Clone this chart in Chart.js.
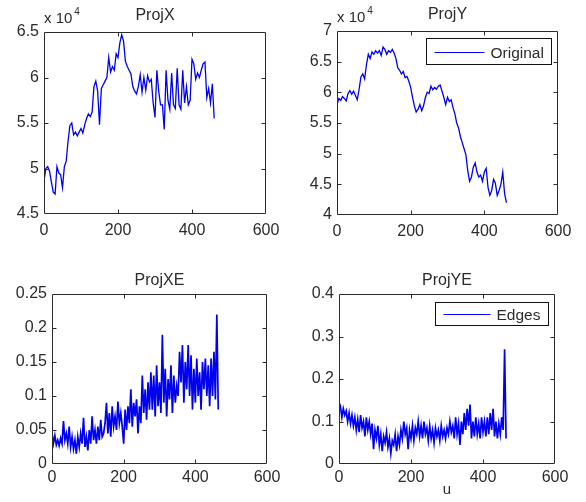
<!DOCTYPE html>
<html>
<head>
<meta charset="utf-8">
<script src="https://cdn.jsdelivr.net/npm/chart.js@4.4.1/dist/chart.umd.min.js"></script>
<style>
  html, body { margin: 0; padding: 0; background: #fff; }
  #wrap { position: relative; width: 586px; height: 502px; overflow: hidden; }
  canvas { position: absolute; }
</style>
</head>
<body>
<div id="wrap">
  <canvas id="c-projx" width="293" height="251" style="left:0;top:0"></canvas>
  <canvas id="c-projy" width="293" height="251" style="left:293px;top:0"></canvas>
  <canvas id="c-projxe" width="293" height="251" style="left:0;top:251px"></canvas>
  <canvas id="c-projye" width="293" height="251" style="left:293px;top:251px"></canvas>
</div>
<script>
// sample spacing along u
const topStep = 5;
const edgeStep = 4;
const xTicks = [0, 200, 400, 600];

// ProjX, ProjY in units of 10^4
const projX = [
  4.86, 5.00, 5.02, 4.97, 4.85, 4.74, 4.72, 5.02, 4.95, 4.93,
  4.79, 5.02, 5.08, 5.30, 5.47, 5.50, 5.37, 5.40, 5.36, 5.40,
  5.44, 5.39, 5.48, 5.55, 5.60, 5.57, 5.62, 5.90, 5.96, 5.85,
  5.48, 5.88, 5.92, 5.96, 6.00, 6.22, 6.06, 6.12, 6.08, 6.26,
  6.22, 6.38, 6.47, 6.40, 6.18, 6.12, 6.08, 6.04, 5.90, 5.85,
  5.82, 5.90, 6.03, 5.84, 6.00, 5.86, 6.02, 5.95, 5.98, 5.72,
  5.56, 6.08, 5.85, 5.70, 5.70, 5.43, 6.08, 5.75, 5.65, 6.05,
  5.70, 5.66, 6.10, 5.70, 5.65, 6.08, 5.72, 5.90, 5.70, 5.75,
  6.20, 6.15, 5.98, 6.05, 6.00, 6.08, 6.15, 6.17, 5.78, 5.88,
  5.72, 5.93, 5.55
];
const projY = [
  5.80, 5.90, 5.87, 5.93, 5.90, 5.86, 5.98, 6.03, 5.97, 6.02,
  5.95, 5.88, 6.05, 6.25, 6.30, 6.22, 6.45, 6.62, 6.55, 6.66,
  6.62, 6.68, 6.64, 6.68, 6.60, 6.74, 6.70, 6.62, 6.68, 6.65,
  6.70, 6.64, 6.55, 6.40, 6.36, 6.30, 6.34, 6.24, 6.26, 6.18,
  6.08, 5.92, 5.78, 5.68, 5.72, 5.80, 5.70, 5.78, 5.92, 6.00,
  5.98, 6.10, 6.04, 6.08, 6.05, 6.10, 6.12, 6.02, 5.92, 5.80,
  5.92, 5.85, 5.88, 5.75, 5.65, 5.50, 5.42, 5.28, 5.18, 5.08,
  4.98, 4.72, 4.55, 4.62, 4.78, 4.85, 4.70, 4.62, 4.65, 4.55,
  4.70, 4.76, 4.45, 4.32, 4.40, 4.58, 4.52, 4.32, 4.40, 4.50,
  4.70, 4.35, 4.20
];
const projXE = [
  0.045, 0.030, 0.042, 0.028, 0.035, 0.027, 0.038, 0.030, 0.063, 0.035,
  0.045, 0.030, 0.055, 0.025, 0.040, 0.022, 0.035, 0.015, 0.040, 0.025,
  0.045, 0.030, 0.068, 0.025, 0.040, 0.020, 0.050, 0.030, 0.070, 0.035,
  0.050, 0.030, 0.055, 0.035, 0.065, 0.040, 0.045, 0.060, 0.090, 0.045,
  0.075, 0.040, 0.085, 0.055, 0.070, 0.050, 0.092, 0.060, 0.075, 0.055,
  0.030, 0.080, 0.050, 0.085, 0.060, 0.110, 0.055, 0.090, 0.070, 0.095,
  0.045, 0.085, 0.060, 0.130, 0.075, 0.110, 0.065, 0.120, 0.080, 0.135,
  0.080, 0.130, 0.070, 0.145, 0.085, 0.120, 0.075, 0.190, 0.090, 0.140,
  0.070, 0.125, 0.095, 0.145, 0.075, 0.130, 0.090, 0.115, 0.100, 0.165,
  0.120, 0.175, 0.090, 0.150, 0.110, 0.175, 0.100, 0.160, 0.080, 0.140,
  0.090, 0.155, 0.100, 0.135, 0.080, 0.150, 0.110, 0.155, 0.100, 0.145,
  0.085, 0.155, 0.100, 0.165, 0.095, 0.220, 0.080
];
const projYE = [
  0.125, 0.135, 0.110, 0.130, 0.115, 0.125, 0.100, 0.120, 0.095, 0.115,
  0.090, 0.110, 0.080, 0.105, 0.075, 0.115, 0.085, 0.100, 0.065, 0.110,
  0.080, 0.100, 0.070, 0.095, 0.035, 0.080, 0.060, 0.090, 0.045, 0.070,
  0.030, 0.065, 0.050, 0.075, 0.040, 0.060, 0.025, 0.055, 0.045, 0.070,
  0.030, 0.065, 0.045, 0.080, 0.060, 0.100, 0.070, 0.085, 0.035, 0.080,
  0.060, 0.090, 0.055, 0.085, 0.070, 0.100, 0.065, 0.090, 0.060, 0.100,
  0.070, 0.085, 0.055, 0.090, 0.060, 0.080, 0.050, 0.085, 0.065, 0.080,
  0.055, 0.090, 0.065, 0.080, 0.060, 0.085, 0.070, 0.100, 0.075, 0.090,
  0.060, 0.110, 0.070, 0.095, 0.045, 0.100, 0.070, 0.120, 0.080, 0.130,
  0.090, 0.140, 0.060, 0.100, 0.065, 0.110, 0.070, 0.095, 0.060, 0.110,
  0.075, 0.100, 0.065, 0.110, 0.070, 0.120, 0.080, 0.130, 0.065, 0.100,
  0.060, 0.095, 0.070, 0.110, 0.080, 0.270, 0.060
];

const FONT = "'Liberation Sans', Arial, sans-serif";
const INK = '#2b2b2b';

function toPoints(arr, step) {
    return arr.map((v, i) => ({ x: i * step, y: v }));
}

function fmt(v) {
    return String(parseFloat(v.toFixed(3)));
}

// matlab-like frame: box, inward ticks, title, exponent label, legend inside
const matlabAxes = {
    id: 'matlabAxes',
    afterDraw(chart, args, opts) {
        const { ctx, chartArea: a, scales } = chart;
        const L = a.left + 0.5, R = a.right - 0.5, T = a.top + 0.5, B = a.bottom - 0.5;
        ctx.save();
        ctx.strokeStyle = INK;
        ctx.lineWidth = 1;
        ctx.beginPath();
        ctx.rect(L, T, R - L, B - T);
        scales.x.ticks.forEach(t => {
            const px = Math.round(scales.x.getPixelForValue(t.value)) + 0.5;
            if (px <= L + 1 || px >= R - 1) return;
            ctx.moveTo(px, B); ctx.lineTo(px, B - 4);
            ctx.moveTo(px, T); ctx.lineTo(px, T + 4);
        });
        scales.y.ticks.forEach(t => {
            const py = Math.round(scales.y.getPixelForValue(t.value)) + 0.5;
            if (py <= T + 1 || py >= B - 1) return;
            ctx.moveTo(L, py); ctx.lineTo(L + 4, py);
            ctx.moveTo(R, py); ctx.lineTo(R - 4, py);
        });
        ctx.stroke();

        ctx.fillStyle = INK;
        ctx.font = '16px ' + FONT;
        ctx.textAlign = 'center';
        ctx.textBaseline = 'alphabetic';
        ctx.fillText(opts.title, (a.left + a.right) / 2, a.top - opts.titleGap);

        if (opts.exponent) {
            ctx.textAlign = 'left';
            ctx.font = '15px ' + FONT;
            ctx.fillText('x 10', a.left, a.top - 9);
            const w = ctx.measureText('x 10').width;
            ctx.font = '10px ' + FONT;
            ctx.fillText(opts.exponent, a.left + w + 2, a.top - 17);
        }

        if (opts.legend) {
            const label = chart.data.datasets[0].label;
            ctx.font = '15.5px ' + FONT;
            const tw = ctx.measureText(label).width;
            const lineLen = opts.legendLine;
            const bw = Math.round(8 + lineLen + 6 + tw + 8);
            const bh = opts.legendH;
            const bx = a.right - 7 - bw + 0.5;
            const by = a.top + opts.legendTop + 0.5;
            ctx.fillStyle = '#fff';
            ctx.fillRect(bx, by, bw, bh);
            ctx.strokeStyle = '#111';
            ctx.strokeRect(bx, by, bw, bh);
            const my = Math.round(by + bh / 2) + 0.5;
            ctx.strokeStyle = '#0000ff';
            ctx.beginPath();
            ctx.moveTo(bx + 8, my);
            ctx.lineTo(bx + 8 + lineLen, my);
            ctx.stroke();
            ctx.fillStyle = INK;
            ctx.textAlign = 'left';
            ctx.textBaseline = 'middle';
            ctx.fillText(label, bx + 8 + lineLen + 6, my + 1);
        }
        ctx.restore();
    }
};

function makeChart(id, cfg) {
    const ctx = document.getElementById(id).getContext('2d');
    return new Chart(ctx, {
        type: 'line',
        data: {
            datasets: [{
                label: cfg.label || '',
                data: cfg.points,
                borderColor: '#0000f0',
                borderWidth: cfg.lw,
                borderJoinStyle: 'miter',
                pointRadius: 0,
                tension: 0,
                fill: false
            }]
        },
        options: {
            responsive: false,
            animation: false,
            devicePixelRatio: 1,
            layout: { padding: { top: cfg.top, right: cfg.right, left: 0, bottom: 0 } },
            plugins: {
                legend: { display: false },
                tooltip: { enabled: false },
                matlabAxes: {
                    title: cfg.title,
                    titleGap: cfg.titleGap,
                    exponent: cfg.exponent,
                    legend: !!cfg.label,
                    legendLine: cfg.legendLine || 50,
                    legendH: cfg.legendH || 25,
                    legendTop: cfg.legendTop || 7
                }
            },
            scales: {
                x: {
                    type: 'linear',
                    min: 0,
                    max: 600,
                    afterBuildTicks: s => { s.ticks = xTicks.map(v => ({ value: v })); },
                    afterFit: s => { s.height = cfg.xH; },
                    grid: { display: false, drawTicks: false },
                    border: { display: false },
                    ticks: {
                        color: INK,
                        font: { family: FONT, size: 16 },
                        padding: cfg.xPad,
                        maxRotation: 0,
                        callback: v => fmt(v)
                    },
                    title: {
                        display: !!cfg.xTitle,
                        text: cfg.xTitle || '',
                        color: INK,
                        font: { family: FONT, size: 15 },
                        padding: { top: 0, bottom: 3 }
                    }
                },
                y: {
                    type: 'linear',
                    min: cfg.yMin,
                    max: cfg.yMax,
                    afterBuildTicks: s => { s.ticks = cfg.yTicks.map(v => ({ value: v })); },
                    afterFit: s => { s.width = cfg.yW; },
                    grid: { display: false, drawTicks: false },
                    border: { display: false },
                    ticks: {
                        color: INK,
                        font: { family: FONT, size: 16 },
                        padding: 5,
                        callback: v => fmt(v)
                    }
                }
            }
        },
        plugins: [matlabAxes]
    });
}

makeChart('c-projx', {
    points: toPoints(projX, topStep), lw: 1.3,
    title: 'ProjX', titleGap: 12, exponent: '4',
    yMin: 4.5, yMax: 6.5, yTicks: [4.5, 5, 5.5, 6, 6.5],
    top: 32, right: 27, yW: 44, xH: 37, xPad: 7
});

makeChart('c-projy', {
    points: toPoints(projY, topStep), lw: 1.3,
    label: 'Original', legendLine: 50, legendH: 26, legendTop: 7,
    title: 'ProjY', titleGap: 12, exponent: '4',
    yMin: 4, yMax: 7, yTicks: [4, 4.5, 5, 5.5, 6, 6.5, 7],
    top: 31, right: 28, yW: 44, xH: 36, xPad: 7
});

makeChart('c-projxe', {
    points: toPoints(projXE, edgeStep), lw: 1.7,
    title: 'ProjXE', titleGap: 9,
    yMin: 0, yMax: 0.25, yTicks: [0, 0.05, 0.1, 0.15, 0.2, 0.25],
    top: 43, right: 26, yW: 52, xH: 38, xPad: 4
});

makeChart('c-projye', {
    points: toPoints(projYE, edgeStep), lw: 1.7,
    label: 'Edges', legendLine: 47, legendH: 23, legendTop: 8,
    title: 'ProjYE', titleGap: 9, xTitle: 'u',
    yMin: 0, yMax: 0.4, yTicks: [0, 0.1, 0.2, 0.3, 0.4],
    top: 43, right: 31, yW: 46, xH: 38, xPad: 4
});
</script>
</body>
</html>
